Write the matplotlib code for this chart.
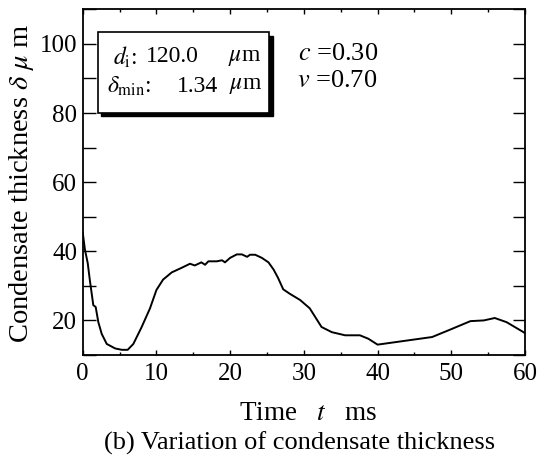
import matplotlib
matplotlib.use("Agg")
import matplotlib.pyplot as plt
from matplotlib.patches import Rectangle
from matplotlib.ticker import MultipleLocator

plt.rcParams['font.family'] = ['Liberation Serif', 'DejaVu Serif']
plt.rcParams['mathtext.fontset'] = 'stix'

# Data
time_ms = [0.0, 0.3, 0.68, 0.99, 1.44, 1.76, 2.12, 2.58, 3.26, 4.4, 5.3, 6.1, 6.87,
           8.0, 9.13, 10.0, 10.9, 12.08, 13.4, 14.56, 15.2, 16.1, 16.6, 17.05, 18.2,
           18.9, 19.3, 20.0, 20.9, 21.6, 22.3, 22.7, 23.4, 24.3, 25.2, 25.9, 26.5,
           27.2, 28.1, 29.5, 30.8, 32.4, 33.8, 35.6, 37.6, 38.75, 40.0, 47.4, 49.8,
           52.6, 54.4, 55.9, 57.5, 59.8, 60.0]
thickness_um = [45.5, 40.5, 36.6, 31.3, 24.4, 23.9, 19.5, 16.1, 13.2, 11.9, 11.5, 11.5, 13.2,
                18.1, 23.5, 28.8, 31.8, 33.9, 35.2, 36.4, 35.9, 36.8, 36.1, 37.1, 37.1,
                37.4, 36.8, 38.1, 39.1, 39.1, 38.4, 39.0, 39.0, 38.1, 36.8, 34.7, 32.3,
                29.0, 27.7, 25.9, 23.5, 18.1, 16.6, 15.7, 15.7, 14.7, 13.0, 15.2, 17.3,
                19.8, 20.0, 20.7, 19.5, 16.6, 16.3]
x_ticks = [0, 10, 20, 30, 40, 50, 60]
y_ticks = [20, 40, 60, 80, 100]

W, H = 539, 465
fig = plt.figure(figsize=(W / 100, H / 100), dpi=100)
ax_l, ax_r, ax_t, ax_b = 82.7, 525.0, 9.3, 355.0
ax = fig.add_axes([ax_l / W, 1 - ax_b / H, (ax_r - ax_l) / W, (ax_b - ax_t) / H])

ax.plot(time_ms, thickness_um, color='black', lw=1.4)
ax.set_xlim(0, 60)
ax.set_ylim(10, 110)
ax.set_xticks(x_ticks)
ax.set_yticks(y_ticks)
ax.xaxis.set_minor_locator(MultipleLocator(5))
ax.yaxis.set_minor_locator(MultipleLocator(10))
ax.tick_params(which='both', direction='in', top=True, right=True, labelsize=18, width=1.0)
ax.tick_params(axis='x', which='major', length=3.5, pad=6)
ax.tick_params(axis='x', which='minor', length=2)
ax.tick_params(axis='y', which='both', length=9, pad=4)
for s in ax.spines.values():
    s.set_linewidth(1.3)

# Axis labels and caption
fig.text(308 / W, 1 - 420 / H, 'Time   $t$   ms', ha='center', va='baseline', fontsize=19.5)
fig.text(22 / W, 1 - 183 / H, r'Condensate thickness $\delta$ $\mu$ m', rotation=90,
         ha='center', va='center', fontsize=20.5)
fig.text(300 / W, 1 - 450 / H, '(b) Variation of condensate thickness',
         ha='center', va='baseline', fontsize=19)

# Boxed annotation with shadow
def fx(px):
    return (px - ax_l) / (ax_r - ax_l)

def fy(py):
    return 1 - (py - ax_t) / (ax_b - ax_t)

bx0, bx1, by0, by1 = 97.7, 269.0, 32.3, 112.7
sh = 3.5
ax.add_patch(Rectangle((fx(bx0 + sh), fy(by1 + sh)), fx(bx1 + sh) - fx(bx0 + sh),
                       fy(by0 + sh) - fy(by1 + sh), transform=ax.transAxes,
                       facecolor='black', edgecolor='black', zorder=3))
ax.add_patch(Rectangle((fx(bx0), fy(by1)), fx(bx1) - fx(bx0), fy(by0) - fy(by1),
                       transform=ax.transAxes, facecolor='white', edgecolor='black',
                       lw=1.2, zorder=4))
fs = 17
ax.text(fx(137), fy(57), r'$d_{\mathrm{i}}$:', transform=ax.transAxes, ha='right', va='center', fontsize=fs, zorder=5)
ax.text(fx(199), fy(57), '120.0', transform=ax.transAxes, ha='right', va='center', fontsize=fs, zorder=5)
ax.text(fx(261), fy(57), r'$\mu$m', transform=ax.transAxes, ha='right', va='center', fontsize=fs, zorder=5)
ax.text(fx(151), fy(86), r'$\delta_{\mathrm{min}}$:', transform=ax.transAxes, ha='right', va='center', fontsize=fs, zorder=5)
ax.text(fx(218), fy(86), '1.34', transform=ax.transAxes, ha='right', va='center', fontsize=fs, zorder=5)
ax.text(fx(262), fy(86), r'$\mu$m', transform=ax.transAxes, ha='right', va='center', fontsize=fs, zorder=5)

ax.text(fx(298), fy(54), r'$c$ =0.30', transform=ax.transAxes, ha='left', va='center', fontsize=19)
ax.text(fx(297), fy(81), r'$v$ =0.70', transform=ax.transAxes, ha='left', va='center', fontsize=19)

fig.savefig('out.png', dpi=100)
